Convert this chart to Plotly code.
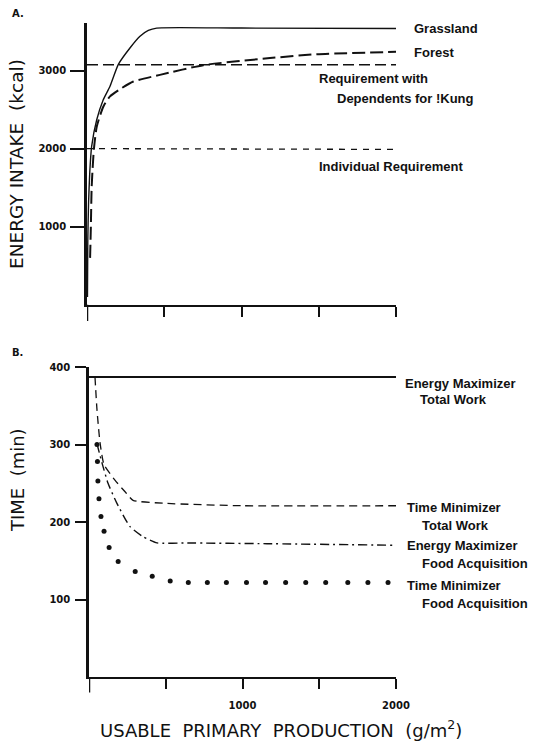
import plotly.graph_objects as go

W, H = 538, 741

# ---------------- Panel A data ----------------
grass_x = [3, 5, 10, 18, 30, 63, 104, 149, 203, 278, 343, 397, 451, 1000, 2000]
grass_y = [100, 800, 1300, 1700, 2030, 2370, 2620, 2800, 3080, 3290, 3440, 3515, 3545, 3545, 3540]

forest_x = [20, 25, 30, 38, 45, 63, 106, 149, 224, 300, 472, 753, 1184, 1487, 2000]
forest_y = [600, 1000, 1500, 1800, 2000, 2280, 2540, 2670, 2775, 2860, 2945, 3070, 3160, 3210, 3240]

req_dep_x = [0, 2000]
req_dep_y = [3075, 3075]

req_ind_x = [0, 2000]
req_ind_y = [2000, 1990]

# ---------------- Panel B data ----------------
em_total_x = [0, 2000]
em_total_y = [387, 387]

tm_total_x = [39, 52, 72, 98, 169, 235, 287, 507, 1000, 2000]
tm_total_y = [387, 345, 302, 274, 254, 239, 228, 224, 221, 221]

em_food_x = [52, 85, 124, 182, 267, 352, 443, 638, 1160, 2000]
em_food_y = [301, 276, 250, 224, 194, 181, 173, 173, 172, 170]

tm_food_x = [52, 55, 58, 65, 78, 98, 131, 190, 301, 412, 529, 647, 771, 895,
             1026, 1150, 1281, 1412, 1542, 1686, 1817, 1948]
tm_food_y = [300, 278, 253, 230, 207, 188, 167, 149, 136, 130, 124, 122, 122, 122,
             122, 122, 122, 122, 122, 122, 122, 122]

x_all_ticks = [500, 1000, 1500, 2000]
x_major_ticks = [1000, 2000]
x_minor_ticks = [500, 1500]
ya_tickvals = [1000, 2000, 3000]
yb_tickvals = [100, 200, 300, 400]

BLACK = "#111111"
LABEL_FONT = dict(family="Liberation Sans", size=13, color=BLACK, weight="bold")
TICK_FONT = dict(family="DejaVu Sans", size=10, color=BLACK, weight="bold")
TITLE_FONT = dict(family="DejaVu Sans", size=18, color=BLACK)

fig = go.Figure()

# Panel A traces
fig.add_trace(go.Scatter(x=grass_x, y=grass_y, mode="lines",
                         line=dict(color=BLACK, width=1.4, shape="spline", smoothing=0.6),
                         xaxis="x", yaxis="y"))
fig.add_trace(go.Scatter(x=forest_x, y=forest_y, mode="lines",
                         line=dict(color=BLACK, width=2, dash="13px,5px", shape="spline", smoothing=0.6),
                         xaxis="x", yaxis="y"))
fig.add_trace(go.Scatter(x=req_dep_x, y=req_dep_y, mode="lines",
                         line=dict(color=BLACK, width=1.7, dash="11px,5px"),
                         xaxis="x", yaxis="y"))
fig.add_trace(go.Scatter(x=req_ind_x, y=req_ind_y, mode="lines",
                         line=dict(color=BLACK, width=1.3, dash="6px,6px"),
                         xaxis="x", yaxis="y"))

# Panel B traces
fig.add_trace(go.Scatter(x=em_total_x, y=em_total_y, mode="lines",
                         line=dict(color=BLACK, width=2),
                         xaxis="x2", yaxis="y2"))
fig.add_trace(go.Scatter(x=tm_total_x, y=tm_total_y, mode="lines",
                         line=dict(color=BLACK, width=1.3, dash="8px,5px", shape="spline", smoothing=0.5),
                         xaxis="x2", yaxis="y2"))
fig.add_trace(go.Scatter(x=em_food_x, y=em_food_y, mode="lines",
                         line=dict(color=BLACK, width=1.4, dash="9px,4px,2px,4px", shape="spline", smoothing=0.5),
                         xaxis="x2", yaxis="y2"))
fig.add_trace(go.Scatter(x=tm_food_x, y=tm_food_y, mode="markers",
                         marker=dict(color=BLACK, size=5),
                         xaxis="x2", yaxis="y2"))

xdomA = [87 / W, 396 / W]
xdomB = [89 / W, 396 / W]
ydomA = [(H - 304.7) / H, (H - 23) / H]
ydomB = [(H - 677) / H, (H - 367) / H]

axis_common = dict(showgrid=False, zeroline=False, showline=True, linecolor=BLACK,
                   tickcolor=BLACK, tickwidth=2, automargin=False, tickfont=TICK_FONT)


def minor_ticks(vals):
    return dict(tickmode="array", tickvals=vals, ticks="outside", ticklen=10,
                tickwidth=2, tickcolor=BLACK, showgrid=False)


fig.update_layout(
    width=W, height=H,
    margin=dict(l=0, r=0, t=0, b=0),
    paper_bgcolor="white", plot_bgcolor="white",
    showlegend=False,
    xaxis=dict(domain=xdomA, range=[0, 2000], anchor="y", tickmode="array",
               tickvals=[], ticks="", showticklabels=False, linewidth=2,
               minor=minor_ticks(x_all_ticks), **axis_common),
    yaxis=dict(domain=ydomA, range=[0, 3610], anchor="x", tickmode="array",
               tickvals=ya_tickvals, ticks="outside", ticklen=14, linewidth=2.5,
               ticklabelstandoff=2, **axis_common),
    xaxis2=dict(domain=xdomB, range=[0, 2000], anchor="y2", tickmode="array",
                tickvals=x_major_ticks, ticks="outside", ticklen=10, linewidth=2,
                ticklabelstandoff=8, minor=minor_ticks(x_minor_ticks), **axis_common),
    yaxis2=dict(domain=ydomB, range=[0, 400], anchor="x2", tickmode="array",
                tickvals=yb_tickvals, ticks="outside", ticklen=11, linewidth=2.5,
                ticklabelstandoff=3, **axis_common),
)

# y-axis extensions below the x-axis
fig.add_shape(type="line", xref="x", yref="y domain", x0=0, x1=0, y0=-0.058, y1=0,
              line=dict(color=BLACK, width=2.5))
fig.add_shape(type="line", xref="x2", yref="y2 domain", x0=0, x1=0, y0=-0.05, y1=0,
              line=dict(color=BLACK, width=2.5))


def px(x):
    return x / W


def py(y):
    return 1 - y / H


labels = [
    ("Grassland", 412, 28),
    ("Forest", 412, 52),
    ("Requirement with", 317, 78),
    ("Dependents for !Kung", 335, 98),
    ("Individual Requirement", 317, 166),
    ("Energy Maximizer", 403, 383),
    ("Total Work", 418, 399),
    ("Time Minimizer", 405, 507),
    ("Total Work", 420, 525),
    ("Energy Maximizer", 405, 545),
    ("Food Acquisition", 420, 563),
    ("Time Minimizer", 405, 585),
    ("Food Acquisition", 420, 603),
]
for text, x, y in labels:
    fig.add_annotation(text=text, x=px(x), y=py(y), xref="paper", yref="paper",
                       xanchor="left", yanchor="middle", showarrow=False, font=LABEL_FONT)

# panel letters
fig.add_annotation(text="A.", x=px(10), y=py(13), xref="paper", yref="paper",
                   xanchor="left", yanchor="middle", showarrow=False,
                   font=dict(family="DejaVu Sans", size=10, color=BLACK, weight="bold"))
fig.add_annotation(text="B.", x=px(10), y=py(352), xref="paper", yref="paper",
                   xanchor="left", yanchor="middle", showarrow=False,
                   font=dict(family="DejaVu Sans", size=10, color=BLACK, weight="bold"))

# axis titles
fig.add_annotation(text="ENERGY INTAKE  (kcal)", x=px(17), y=py(164), xref="paper", yref="paper",
                   xanchor="center", yanchor="middle", textangle=-90, showarrow=False,
                   font=dict(family="DejaVu Sans", size=18.5, color=BLACK))
fig.add_annotation(text="TIME  (min)", x=px(17), y=py(480), xref="paper", yref="paper",
                   xanchor="center", yanchor="middle", textangle=-90, showarrow=False, font=TITLE_FONT)
fig.add_annotation(text="USABLE  PRIMARY  PRODUCTION  (g/m<sup>2</sup>)", x=px(281), y=py(729),
                   xref="paper", yref="paper", xanchor="center", yanchor="middle",
                   showarrow=False, font=dict(family="DejaVu Sans", size=18, color=BLACK))

fig.write_html("out.html")
